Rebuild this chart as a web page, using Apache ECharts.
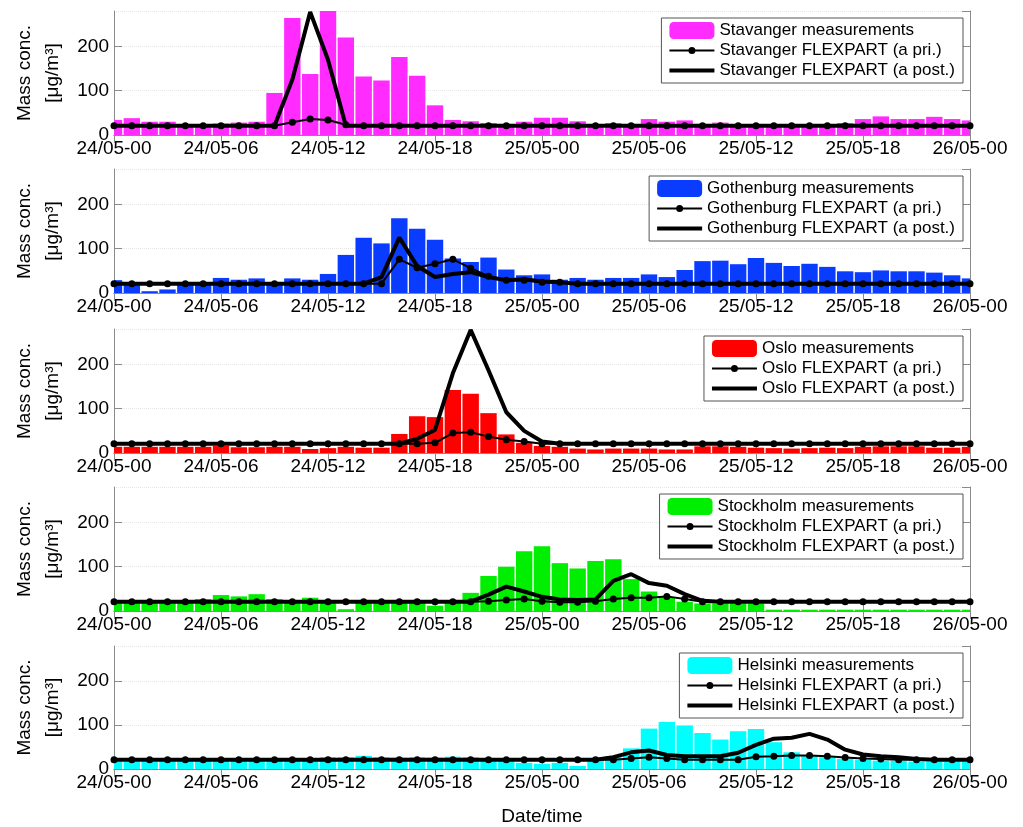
<!DOCTYPE html>
<html>
<head>
<meta charset="utf-8">
<script src="https://cdn.jsdelivr.net/npm/echarts@6/dist/echarts.min.js"></script>
<style>
html,body{margin:0;padding:0;background:#fff;}
#chart{width:1023px;height:827px;}
</style>
</head>
<body>
<div id="chart"></div>
<script>
// Hours from 24/05-00 to 26/05-00
const hours = [0,1,2,3,4,5,6,7,8,9,10,11,12,13,14,15,16,17,18,19,20,21,22,23,24,25,26,27,28,29,30,31,32,33,34,35,36,37,38,39,40,41,42,43,44,45,46,47,48];
const tickLabels = ['24/05-00','24/05-06','24/05-12','24/05-18','25/05-00','25/05-06','25/05-12','25/05-18','26/05-00'];
const stationNames = ['Stavanger','Gothenburg','Oslo','Stockholm','Helsinki'];
const stationColors = ['#ff2bff','#0a3cff','#ff0000','#00ee00','#00ffff'];

const stavangerMeas = [34,38,30,30,22,22,26,28,30,95,264,138,285,220,132,123,176,134,67,34,31,27,25,30,39,39,31,23,27,25,36,30,33,25,28,23,23,23,23,23,24,27,36,42,36,36,41,36,33];
const stavangerPri  = [21,21,21,21,21,21,21,21,21,21,29,36,34,23,21,21,21,21,21,21,21,21,21,21,21,21,21,21,21,21,21,21,21,21,21,21,21,21,21,21,21,21,21,21,21,21,21,21,21];
const stavangerPost = [21,21,21,21,21,21,21,21,21,21,125,278,170,21,21,21,21,21,21,21,21,21,21,21,21,21,21,21,21,21,21,21,21,21,21,21,21,21,21,21,21,21,21,21,21,21,21,21,21];

const gothenburgMeas = [29,22,4,8,20,20,34,30,33,20,33,30,43,86,125,112,169,145,120,78,70,80,53,40,42,30,34,30,34,34,42,36,52,72,73,65,79,68,61,66,59,49,47,51,49,49,46,40,33];
const gothenburgPri  = [21,21,21,21,21,21,21,21,21,21,21,21,21,21,21,21,76,57,66,76,56,38,29,29,24,24,21,21,21,21,21,21,21,21,21,21,21,21,21,21,21,21,21,21,21,21,21,21,21];
const gothenburgPost = [21,21,21,21,21,21,21,21,21,21,21,21,21,21,21,36,125,61,36,43,47,36,29,31,26,24,21,21,21,21,21,21,21,21,21,21,21,21,21,21,21,21,21,21,21,21,21,21,21];

const osloMeas = [14,14,14,14,14,14,16,13,13,14,14,9,11,14,12,12,43,83,81,142,134,90,42,23,16,14,10,8,10,10,10,8,8,15,15,14,12,11,10,11,12,11,14,15,15,15,12,12,14];
const osloPri  = [21,21,21,21,21,21,21,21,21,21,21,21,21,21,21,21,21,21,23,45,47,37,30,26,21,21,21,21,21,21,21,21,21,21,21,21,21,21,21,21,21,21,21,21,21,21,21,21,21];
const osloPost = [21,21,21,21,21,21,21,21,21,21,21,21,21,21,21,21,21,32,52,180,278,187,92,50,26,21,21,21,21,21,21,21,21,21,21,21,21,21,21,21,21,21,21,21,21,21,21,21,21];

const stockholmMeas = [20,20,20,20,20,27,36,33,38,27,23,30,23,4,18,18,18,18,12,22,41,79,100,135,146,108,96,113,117,72,44,30,21,17,17,17,17,3,3,3,3,3,3,3,3,3,3,3,3];
const stockholmPri  = [21,21,21,21,21,21,21,21,21,21,21,21,21,21,21,21,21,21,21,21,21,22,25,27,22,20,20,22,27,30,30,33,27,21,21,21,21,21,21,21,21,21,21,21,21,21,21,21,21];
const stockholmPost = [21,21,21,21,21,21,21,21,21,21,21,21,21,21,21,21,21,21,21,21,21,37,55,44,32,26,25,26,68,83,63,57,38,23,21,21,21,21,21,21,21,21,21,21,21,21,21,21,21];

const helsinkiMeas = [17,17,17,18,18,20,24,25,25,23,23,25,27,27,30,27,26,27,26,28,27,22,18,14,12,14,7,19,29,47,92,107,99,82,67,86,91,61,38,30,27,23,21,19,19,17,17,17,17];
const helsinkiPri  = [21,21,21,21,21,21,21,21,21,21,21,21,21,21,21,21,21,21,21,21,21,21,21,21,21,21,21,21,21,24,27,24,21,21,21,21,28,29,31,31,29,26,24,23,21,21,21,21,21];
const helsinkiPost = [21,21,21,21,21,21,21,21,21,21,21,21,21,21,21,21,21,21,21,21,21,21,21,21,21,21,21,21,27,38,42,32,29,29,29,37,55,69,71,80,67,44,33,29,27,23,21,21,21];

const measData = [stavangerMeas, gothenburgMeas, osloMeas, stockholmMeas, helsinkiMeas];
const priData  = [stavangerPri, gothenburgPri, osloPri, stockholmPri, helsinkiPri];
const postData = [stavangerPost, gothenburgPost, osloPost, stockholmPost, helsinkiPost];

const yMax = 280;
const FONT = 'Liberation Sans, Arial, Helvetica, sans-serif';
const AXIS_GRAY = '#8a8a8a';
const gridTops = [11, 169, 329, 487, 646];
const gridHeight = 124;

// legend icons (45 x 17 box, tiny corner anchors keep the box size)
const ANCH = 'M0,0 L0.05,0 L0,0.05 Z M45,17 L44.95,17 L45,16.95 Z ';
const ICON_PRI = 'path://' + ANCH + 'M0,7.5 L45,7.5 L45,9.5 L0,9.5 Z M19,8.5 A3.5,3.5 0 1 1 26,8.5 A3.5,3.5 0 1 1 19,8.5 Z';
const ICON_POST = 'path://' + ANCH + 'M0,6.5 L45,6.5 L45,10.5 L0,10.5 Z';

const chart = echarts.init(document.getElementById('chart'), null, {renderer: 'canvas'});

const grids = [], xAxes = [], yAxes = [], series = [], legends = [];
const tickEvery = (idx) => idx % 6 === 0;

function renderBar(params, api) {
  const x = api.value(0);
  const y = api.value(1);
  const base = api.coord([x, 0]);
  const top = api.coord([x, y]);
  const bw = api.size([1, 0])[0] * 0.92;
  const rect = {x: base[0] - bw / 2, y: top[1], width: bw, height: base[1] - top[1]};
  const cs = params.coordSys;
  const clipped = echarts.graphic.clipRectByRect(rect, {x: cs.x, y: cs.y, width: cs.width, height: cs.height});
  if (!clipped) return null;
  return {type: 'rect', shape: clipped, style: api.style()};
}

stationNames.forEach((st, i) => {
  grids.push({left: 114, right: 53, top: gridTops[i], height: gridHeight, containLabel: false});
  const isLast = i === stationNames.length - 1;
  xAxes.push({
    type: 'category', gridIndex: i, data: hours, boundaryGap: false, position: 'bottom',
    axisLine: {show: true, lineStyle: {color: AXIS_GRAY, width: 1}},
    axisTick: {show: true, inside: true, length: 8, interval: tickEvery, lineStyle: {color: AXIS_GRAY}},
    axisLabel: {show: true, interval: tickEvery, margin: 4, color: '#000', fontSize: 19, fontFamily: FONT,
      formatter: (v, idx) => tickLabels[idx / 6]},
    splitLine: {show: false},
    name: isLast ? 'Date/time' : '', nameLocation: 'middle', nameGap: 38,
    nameTextStyle: {color: '#000', fontSize: 19, fontFamily: FONT}
  });
  xAxes.push({
    type: 'category', gridIndex: i, data: hours, boundaryGap: false, position: 'top',
    axisLine: {show: true, lineStyle: {color: AXIS_GRAY, width: 1}},
    axisTick: {show: true, inside: true, length: 8, interval: tickEvery, lineStyle: {color: AXIS_GRAY}},
    axisLabel: {show: false}, splitLine: {show: false}
  });
  yAxes.push({
    type: 'value', gridIndex: i, min: 0, max: yMax, interval: 100, position: 'left',
    axisLine: {show: true, lineStyle: {color: AXIS_GRAY, width: 1}},
    axisTick: {show: true, inside: true, length: 8, lineStyle: {color: AXIS_GRAY}},
    axisLabel: {show: true, color: '#000', fontSize: 19, fontFamily: FONT, margin: 5, showMaxLabel: false},
    splitLine: {show: true, lineStyle: {color: '#e6e6e6', width: 1, type: 'dotted'}},
    name: 'Mass conc.\n[μg/m³]', nameLocation: 'middle', nameGap: 47, nameRotate: 90,
    nameTextStyle: {color: '#000', fontSize: 19, fontFamily: FONT, lineHeight: 28, align: 'center'}
  });
  yAxes.push({
    type: 'value', gridIndex: i, min: 0, max: yMax, interval: 100, position: 'right',
    axisLine: {show: true, lineStyle: {color: AXIS_GRAY, width: 1}},
    axisTick: {show: true, inside: true, length: 8, lineStyle: {color: AXIS_GRAY}},
    axisLabel: {show: false, showMaxLabel: false}, splitLine: {show: false}
  });

  const nMeas = st + ' measurements';
  const nPri = st + ' FLEXPART (a pri.)';
  const nPost = st + ' FLEXPART (a post.)';
  series.push({
    name: nMeas, type: 'custom', xAxisIndex: 2 * i, yAxisIndex: 2 * i,
    data: measData[i].map((v, k) => [k, v]), encode: {x: 0, y: 1},
    renderItem: renderBar, itemStyle: {color: stationColors[i]}, z: 2
  });
  series.push({
    name: nPost, type: 'line', xAxisIndex: 2 * i, yAxisIndex: 2 * i, data: postData[i],
    symbol: 'none', lineStyle: {color: '#000', width: 4}, itemStyle: {color: '#000'}, clip: true, z: 3
  });
  series.push({
    name: nPri, type: 'line', xAxisIndex: 2 * i, yAxisIndex: 2 * i, data: priData[i],
    symbol: 'circle', symbolSize: 7, showSymbol: true,
    lineStyle: {color: '#000', width: 2}, itemStyle: {color: '#000'}, clip: true, z: 4
  });
  legends.push({
    data: [
      {name: nMeas, icon: 'roundRect', itemStyle: {color: stationColors[i], borderWidth: 0}},
      {name: nPri, icon: ICON_PRI, itemStyle: {color: '#000', borderWidth: 0}},
      {name: nPost, icon: ICON_POST, itemStyle: {color: '#000', borderWidth: 0}}
    ],
    orient: 'vertical', right: 60, top: gridTops[i] + 7,
    backgroundColor: '#fff', borderColor: '#555', borderWidth: 1, borderRadius: 0,
    padding: [4, 8, 4, 8], itemGap: 3, itemWidth: 45, itemHeight: 17,
    textStyle: {color: '#000', fontSize: 17, fontFamily: FONT}, selectedMode: false
  });
});

chart.setOption({
  animation: false,
  backgroundColor: '#fff',
  textStyle: {fontFamily: FONT},
  grid: grids, xAxis: xAxes, yAxis: yAxes, series: series, legend: legends
});
</script>
</body>
</html>
